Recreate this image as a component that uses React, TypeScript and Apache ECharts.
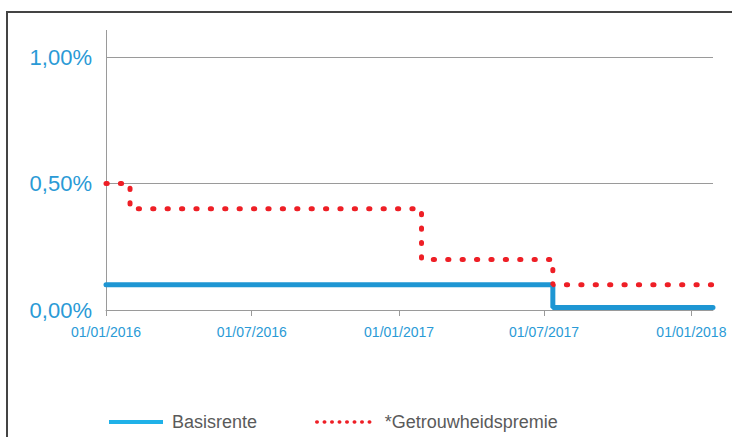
import React, { useEffect, useRef } from "react";
import * as echarts from "echarts";

const axisStart = "2016-01-01";
const axisEnd = "2018-01-28";
const xTickDates = ["2016-01-01", "2016-07-01", "2017-01-01", "2017-07-01", "2018-01-01"];
const xTickLabels = ["01/01/2016", "01/07/2016", "01/01/2017", "01/07/2017", "01/01/2018"];
const yMin = 0;
const yMax = 1.0;
const yInterval = 0.5;
const seriesNames = ["Basisrente", "*Getrouwheidspremie"];
const basisDates = ["2016-01-01", "2017-07-12", "2018-01-28"];
const basisValues = [0.1, 0.01, 0.01];
const premieDates = ["2016-01-01", "2016-01-31", "2017-01-29", "2017-07-12", "2018-01-28"];
const premieValues = [0.5, 0.4, 0.2, 0.1, 0.1];

const dayOf = (d: string) => Math.round((Date.parse(d) - Date.parse(axisStart)) / 86400000);

const BLUE = "#1e96d3";
const RED = "#ee1f26";
const LABEL_BLUE = "#2a9ad6";
const GRID = "#9a9a9a";
const FONT = "'Liberation Sans', Arial, sans-serif";

export default function App() {
  const ref = useRef<HTMLDivElement>(null);
  useEffect(() => {
    if (!ref.current) return;
    const chart = echarts.init(ref.current, undefined, { renderer: "svg" });
    const tickDays = xTickDates.map(dayOf);
    const basisData = basisDates.map((d, i) => [dayOf(d), basisValues[i]]);
    const premieData = premieDates.map((d, i) => [dayOf(d), premieValues[i]]);
    chart.setOption({
      animation: false,
      backgroundColor: "#ffffff",
      textStyle: { fontFamily: FONT },
      grid: { left: 106, right: 19, top: 57, bottom: 127, containLabel: false },
      xAxis: {
        type: "value",
        min: 0,
        max: dayOf(axisEnd),
        axisLine: { show: true, lineStyle: { color: GRID, width: 1 } },
        axisTick: {
          show: true,
          length: 6,
          customValues: tickDays,
          lineStyle: { color: GRID, width: 1 },
        },
        axisLabel: {
          customValues: tickDays,
          formatter: (v: number) => {
            const i = tickDays.indexOf(Math.round(v));
            return i >= 0 ? xTickLabels[i] : "";
          },
          color: LABEL_BLUE,
          fontSize: 14,
          margin: 15,
          fontFamily: FONT,
        },
        splitLine: { show: false },
      },
      yAxis: {
        type: "value",
        min: yMin,
        max: yMax,
        interval: yInterval,
        axisLine: { show: true, lineStyle: { color: GRID, width: 1 } },
        axisTick: { show: false },
        axisLabel: {
          formatter: (v: number) => v.toFixed(2).replace(".", ",") + "%",
          color: LABEL_BLUE,
          fontSize: 22,
          margin: 14,
          fontFamily: FONT,
        },
        splitLine: { show: true, lineStyle: { color: GRID, width: 1 } },
      },
      legend: [
        {
          data: [seriesNames[0]],
          left: 107,
          top: 413,
          padding: 0,
          itemWidth: 54,
          itemHeight: 4,
          itemStyle: { opacity: 0 },
          lineStyle: { width: 4, color: "#1fb1e8", cap: "butt" },
          textStyle: { color: "#5a5a5a", fontSize: 18, fontFamily: FONT, padding: [0, 0, 0, 4] },
          selectedMode: false,
        },
        {
          data: [seriesNames[1]],
          left: 315,
          top: 413,
          padding: 0,
          itemWidth: 60,
          itemHeight: 4,
          itemStyle: { opacity: 0 },
          lineStyle: { width: 3.5, color: RED, type: [0.5, 7], cap: "round" },
          textStyle: { color: "#5a5a5a", fontSize: 18, fontFamily: FONT, padding: [0, 0, 0, 3] },
          selectedMode: false,
        },
      ],
      series: [
        {
          name: seriesNames[0],
          type: "line",
          step: "end",
          data: basisData,
          symbol: "none",
          lineStyle: { color: BLUE, width: 5, cap: "round" },
          itemStyle: { color: BLUE },
          z: 3,
        },
        {
          name: seriesNames[1],
          type: "line",
          step: "end",
          data: premieData,
          symbol: "none",
          lineStyle: { color: RED, width: 5, type: [1.2, 13.2], cap: "round" },
          itemStyle: { color: RED },
          z: 4,
        },
      ],
      graphic: [
        {
          type: "rect",
          shape: { x: 7, y: 12, width: 780, height: 480 },
          style: { fill: "none", stroke: "#444444", lineWidth: 2 },
          silent: true,
        },
        {
          type: "line",
          shape: { x1: 106.5, y1: 30, x2: 106.5, y2: 57 },
          style: { stroke: GRID, lineWidth: 1 },
          silent: true,
        },
      ],
    });
    return () => chart.dispose();
  }, []);
  return (
    <div
      ref={ref}
      style={{ position: "fixed", left: 0, top: 0, width: 732, height: 437 }}
    />
  );
}
